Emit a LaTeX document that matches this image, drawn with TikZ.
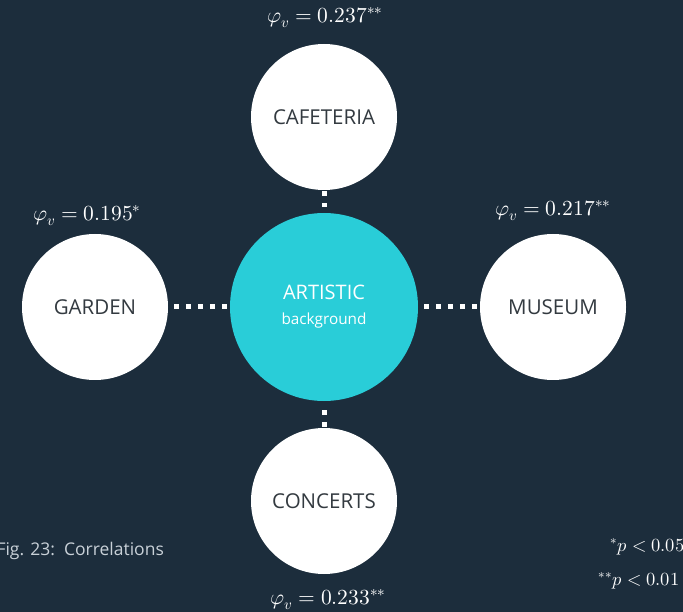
\documentclass[tikz,border=0pt]{standalone}
\usepackage{fontspec}
\usepackage{unicode-math}
\setmainfont{Open Sans}
\setmathfont{Latin Modern Math}
\usepackage{tikz}
\usetikzlibrary{positioning}

\definecolor{navy}{HTML}{1C2D3C}
\definecolor{teal}{HTML}{29CDD8}
\definecolor{inktext}{HTML}{333A40}
\definecolor{captext}{HTML}{C9D1D8}

\tikzset{
	topic/.style={circle,fill=white,minimum size=146pt,inner sep=0pt,
		text=inktext,font=\fontsize{20.5}{24}\selectfont},
	hub/.style={circle,fill=teal,minimum size=188pt,inner sep=0pt,
		text=white,align=center},
	dotline/.style={white,line width=5pt,dash pattern=on 5pt off 7pt},
	coef/.style={text=white,font=\fontsize{21.5}{24}\selectfont},
}

\begin{document}
\begin{tikzpicture}[x=1pt,y=-1pt]
	\fill[navy] (0,0) rectangle (683,612);
	\useasboundingbox (0,0) rectangle (683,612);

	\node[hub]   (art)  at (324,307) {{\fontsize{20}{22}\selectfont ARTISTIC}\\[13pt]{\fontsize{15.3}{16}\selectfont background}};
	\node[topic] (cafe) at (324,117) {CAFETERIA};
	\node[topic] (gard) at (95,307)  {GARDEN};
	\node[topic] (muse) at (553,307) {MUSEUM};
	\node[topic] (conc) at (324,501) {CONCERTS};

	% connectors
	\draw[dotline,dash phase=-6pt] (gard) -- (art);
	\draw[dotline,dash phase=-6pt] (art) -- (muse);
	\draw[dotline,dash phase=-1pt,shorten >=6pt] (cafe) -- (art);
	\draw[dotline,dash phase=-1pt,shorten >=6pt] (conc) -- (art);

	% coefficients
	\node[coef] (cafec) at (325,18)  {$\varphi_v = 0.237^{**}$};
	\node[coef] (gardc) at (87,216)  {$\varphi_v = 0.195^{*}$};
	\node[coef] (musec) at (553,211) {$\varphi_v = 0.217^{**}$};
	\node[coef] (concc) at (328,600) {$\varphi_v = 0.233^{**}$};

	\node[text=captext,anchor=west,font=\fontsize{17.5}{20}\selectfont] (cap) at (-7,551) {Fig. 23:\ \ Correlations};
	\node[coef,anchor=east,font=\fontsize{18.5}{20}\selectfont] (sig1) at (688,547) {$^{*}p < 0.05$};
	\node[coef,anchor=east,font=\fontsize{18.5}{20}\selectfont] (sig2) at (683,581) {$^{**}p < 0.01$};
\end{tikzpicture}
\end{document}
